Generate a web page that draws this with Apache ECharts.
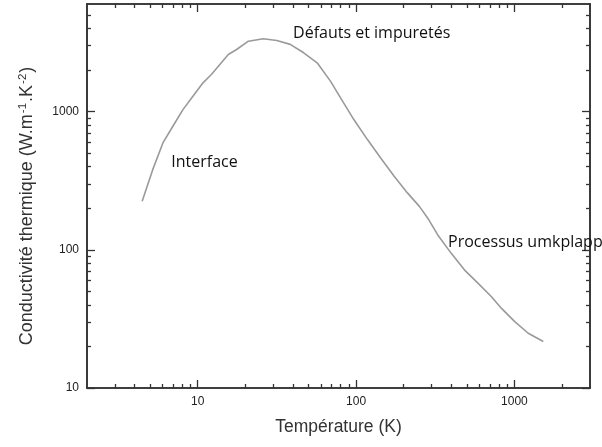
<!DOCTYPE html>
<html><head><meta charset="utf-8">
<script src="https://cdn.jsdelivr.net/npm/echarts@6/dist/echarts.min.js"></script>
<style>html,body{margin:0;padding:0;background:#fff}#c{width:602px;height:447px}</style>
</head><body><div id="c"></div>
<script>
// Data (log-log)
const temperature = [4.46, 5.2, 6.03, 6.97, 8.07, 9.33, 10.8, 12.2, 13.8, 15.6, 17.6, 20.9, 26.0, 31.6, 38.4, 46.7, 56.8, 68.9, 79.8, 96.8, 118, 143, 174, 211, 251, 283, 328, 398, 483, 588, 714, 826, 1005, 1222, 1521];
const conductivity = [224, 380, 593, 783, 1033, 1291, 1614, 1854, 2193, 2588, 2812, 3228, 3366, 3266, 3062, 2662, 2254, 1660, 1256, 875, 627, 461, 340, 258, 206, 170, 128, 94.6, 71.6, 57.4, 45.9, 37.8, 30.2, 24.9, 21.7];

const xRange = [2, 3000];
const yRange = [10, 6000];
const xMajorTicks = [10, 100, 1000];
const xMinorTicks = [3, 4, 5, 6, 7, 8, 9, 20, 30, 40, 50, 60, 70, 80, 90, 200, 300, 400, 500, 600, 700, 800, 900, 2000];
const yMajorTicks = [10, 100, 1000];
const yMinorTicks = [20, 30, 40, 50, 60, 70, 80, 90, 200, 300, 400, 500, 600, 700, 800, 900, 2000, 3000, 4000, 5000];

const xTitle = 'Température (K)';
const yTitleParts = ['Conductivité thermique (W.m', '-1', '.K', '-2', ')'];

const annotationTexts = ['Défauts et impuretés', 'Interface', 'Processus umkplapp'];
const annotationX = [40, 6.81, 381];
const annotationY = [3673, 430, 112.5];

const axisColor = '#333';
const sansFont = 'Liberation Sans';
function makeAxis(range, pos, ticks, len, labelValues) {
  return {
    type: 'log', logBase: 10, min: range[0], max: range[1], position: pos,
    axisLine: { show: true, onZero: false, lineStyle: { color: axisColor, width: 1.6 } },
    axisTick: { show: true, inside: true, length: len, customValues: ticks, lineStyle: { color: axisColor, width: 1.3 } },
    axisLabel: labelValues ? { show: true, customValues: labelValues, formatter: v => String(Math.round(v)), color: '#222', fontFamily: sansFont, fontSize: 12, margin: 8 } : { show: false },
    splitLine: { show: false }, minorTick: { show: false }, minorSplitLine: { show: false }
  };
}

const xMain = makeAxis(xRange, 'bottom', xMajorTicks, 8, xMajorTicks);
xMain.name = xTitle; xMain.nameLocation = 'middle'; xMain.nameGap = 30;
xMain.nameTextStyle = { color: '#333', fontFamily: sansFont, fontSize: 17.5 };

const yMain = makeAxis(yRange, 'left', yMajorTicks, 8, yMajorTicks);
yMain.name = '{a|' + yTitleParts[0] + '}{s|' + yTitleParts[1] + '}{a|' + yTitleParts[2] + '}{s|' + yTitleParts[3] + '}{a|' + yTitleParts[4] + '}';
yMain.nameLocation = 'middle'; yMain.nameGap = 50;
yMain.nameTextStyle = {
  color: '#333', fontFamily: sansFont, fontSize: 18, padding: [0, 20, 0, 0],
  rich: {
    a: { color: '#333', fontFamily: sansFont, fontSize: 18 },
    s: { color: '#333', fontFamily: sansFont, fontSize: 11.5, verticalAlign: 'top', padding: [0, 1, 8, 1] }
  }
};

const chart = echarts.init(document.getElementById('c'), null, { renderer: 'canvas' });
chart.setOption({
  animation: false,
  backgroundColor: '#fff',
  grid: { left: 87, right: 12, top: 4, bottom: 59, containLabel: false, outerBoundsMode: 'none' },
  xAxis: [
    xMain,
    makeAxis(xRange, 'bottom', xMinorTicks, 4, null),
    makeAxis(xRange, 'top', xMajorTicks, 8, null),
    makeAxis(xRange, 'top', xMinorTicks, 4, null)
  ],
  yAxis: [
    yMain,
    makeAxis(yRange, 'left', yMinorTicks, 4, null),
    makeAxis(yRange, 'right', yMajorTicks, 8, null),
    makeAxis(yRange, 'right', yMinorTicks, 4, null)
  ],
  series: [{
    type: 'line', xAxisIndex: 0, yAxisIndex: 0,
    data: temperature.map((t, i) => [t, conductivity[i]]),
    showSymbol: false, smooth: false,
    lineStyle: { color: '#9a9a9a', width: 1.6 },
    markPoint: {
      symbol: 'circle', symbolSize: 0, silent: true,
      data: annotationTexts.map((t, i) => ({ name: t, coord: [annotationX[i], annotationY[i]] })),
      label: { show: true, position: [0, 0], align: 'left', verticalAlign: 'middle', formatter: '{b}', color: '#111', fontFamily: 'Open Sans', fontSize: 16 }
    }
  }]
});
</script></body></html>
